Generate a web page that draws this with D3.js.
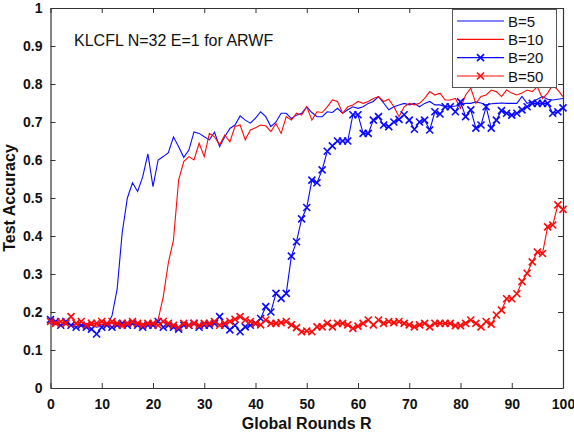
<!DOCTYPE html>
<html lang="en">
<head>
<meta charset="UTF-8">
<title>Test Accuracy vs Global Rounds</title>
<style>
  html, body { margin: 0; background: #fff; overflow: hidden; }
  text { font-family: "Liberation Sans", Arial, sans-serif; }
</style>
</head>
<body>
<div id="container"></div>
<script src="https://cdnjs.cloudflare.com/ajax/libs/d3/7.8.5/d3.min.js"></script>
<script>
// rounds 0..100
var rounds = d3.range(0, 101);

var b5 = [0.17,0.168,0.165,0.17,0.166,0.168,0.163,0.167,0.165,0.16,0.163,0.165,
  0.19,0.26,0.41,0.50,0.54,0.517,0.556,0.616,0.53,0.60,0.609,0.619,0.661,0.635,0.607,0.626,0.674,0.67,
  0.661,0.653,0.673,0.635,0.661,0.683,0.692,0.716,0.705,0.697,
  0.71,0.727,0.714,0.688,0.70,0.723,0.723,0.709,0.718,0.723,
  0.74,0.725,0.714,0.714,0.727,0.725,0.736,0.723,0.732,0.74,
  0.736,0.74,0.749,0.754,0.767,0.75,0.732,0.74,0.745,0.749,
  0.745,0.749,0.74,0.749,0.754,0.745,0.745,0.74,0.74,0.742,
  0.745,0.749,0.749,0.753,0.75,0.745,0.748,0.749,0.75,0.749,
  0.749,0.749,0.767,0.749,0.753,0.76,0.767,0.76,0.758,0.76,0.762];

var b10 = [0.17,0.168,0.165,0.17,0.165,0.168,0.165,0.17,0.165,0.163,
  0.168,0.165,0.17,0.165,0.16,0.165,0.168,0.165,0.17,0.165,
  0.17,0.18,0.24,0.33,0.39,0.547,0.596,0.609,0.60,0.644,
  0.609,0.67,0.661,0.64,0.666,0.648,0.688,0.692,0.653,0.679,
  0.685,0.692,0.69,0.675,0.696,0.67,0.714,0.705,0.723,0.718,
  0.74,0.705,0.727,0.725,0.74,0.758,0.754,0.723,0.74,0.745,
  0.754,0.749,0.754,0.762,0.767,0.754,0.76,0.74,0.714,0.74,
  0.749,0.745,0.749,0.762,0.78,0.771,0.776,0.758,0.758,0.762,
  0.736,0.771,0.789,0.749,0.767,0.771,0.784,0.78,0.767,0.784,
  0.776,0.771,0.776,0.784,0.78,0.793,0.762,0.776,0.798,0.784,0.767];

var b20 = [0.18,0.175,0.165,0.175,0.165,0.16,0.165,0.16,0.155,0.142,
  0.16,0.165,0.16,0.165,0.17,0.165,0.17,0.165,0.16,0.165,
  0.165,0.175,0.16,0.165,0.16,0.155,0.165,0.165,0.17,0.16,
  0.165,0.165,0.17,0.188,0.165,0.153,0.165,0.148,0.161,0.165,
  0.17,0.183,0.214,0.20,0.249,0.236,0.249,0.347,0.385,0.445,
  0.475,0.547,0.54,0.574,0.623,0.637,0.65,0.65,0.65,0.719,
  0.719,0.67,0.67,0.705,0.714,0.692,0.688,0.70,0.707,0.719,
  0.705,0.681,0.70,0.705,0.679,0.727,0.721,0.74,0.74,0.727,
  0.753,0.714,0.732,0.684,0.692,0.74,0.684,0.705,0.73,0.723,
  0.718,0.723,0.732,0.74,0.749,0.749,0.749,0.749,0.723,0.727,0.737];

var b50 = [0.175,0.17,0.175,0.17,0.188,0.17,0.175,0.165,0.17,0.17,
  0.175,0.17,0.175,0.17,0.165,0.17,0.175,0.17,0.165,0.17,
  0.17,0.165,0.175,0.17,0.165,0.16,0.17,0.165,0.17,0.165,
  0.17,0.17,0.175,0.165,0.17,0.175,0.181,0.188,0.179,0.175,
  0.17,0.166,0.179,0.17,0.17,0.172,0.175,0.166,0.159,0.148,
  0.15,0.148,0.161,0.161,0.17,0.161,0.17,0.17,0.166,0.157,
  0.163,0.17,0.179,0.166,0.179,0.17,0.175,0.172,0.175,0.17,
  0.166,0.161,0.166,0.17,0.161,0.17,0.17,0.17,0.17,0.164,
  0.164,0.17,0.179,0.17,0.161,0.175,0.168,0.192,0.205,0.235,
  0.235,0.248,0.28,0.302,0.332,0.358,0.354,0.424,0.429,0.482,0.47];

var xTicks = d3.range(0, 101, 10);
var yTicks = [0, 0.1, 0.2, 0.3, 0.4, 0.5, 0.6, 0.7, 0.8, 0.9, 1];

var series = [
  {name: "B=5",  values: b5,  color: "#0a0aff", marker: false},
  {name: "B=10", values: b10, color: "#ff0a0a", marker: false},
  {name: "B=20", values: b20, color: "#0a0aff", marker: true},
  {name: "B=50", values: b50, color: "#ff0a0a", marker: true}
];

var width = 574, height = 433;
var plotL = 50.5, plotR = 563, plotT = 8, plotB = 388;

var svg = d3.select('#container').append('svg')
  .attr('width', width)
  .attr('height', height);

var x = d3.scaleLinear().domain([0, 100]).range([plotL, plotR]);
var y = d3.scaleLinear().domain([0, 1]).range([plotB, plotT]);

var axisColor = "#333";

// axes, ticks pointing inward like matlab
var fmtY = function(d) { return d === 0 || d === 1 ? String(d) : d3.format(".1f")(d); };

var gx = svg.append('g').attr('transform', 'translate(0,' + plotB + ')')
  .call(d3.axisBottom(x).tickValues(xTicks).tickSizeInner(-5).tickSizeOuter(0).tickPadding(11));
var gy = svg.append('g').attr('transform', 'translate(' + plotL + ',0)')
  .call(d3.axisLeft(y).tickValues(yTicks).tickFormat(fmtY).tickSizeInner(-5).tickSizeOuter(0).tickPadding(8));
var gt = svg.append('g').attr('transform', 'translate(0,' + plotT + ')')
  .call(d3.axisTop(x).tickValues(xTicks).tickSizeInner(-5).tickSizeOuter(0).tickFormat(''));
var gr = svg.append('g').attr('transform', 'translate(' + plotR + ',0)')
  .call(d3.axisRight(y).tickValues(yTicks).tickSizeInner(-5).tickSizeOuter(0).tickFormat(''));

[gx, gy, gt, gr].forEach(function(g) {
  g.selectAll('.domain').attr('stroke', axisColor).attr('stroke-width', 1.2);
  g.selectAll('.tick line').attr('stroke', axisColor);
  g.selectAll('.tick text')
    .attr('fill', '#111')
    .style('font-family', '"Liberation Sans", Arial, sans-serif')
    .style('font-size', '14px')
    .style('font-weight', 'bold');
});

var line = d3.line()
  .x(function(d, i) { return x(rounds[i]); })
  .y(function(d) { return y(d); });

function xMark(sel, size) {
  sel.append('path')
    .attr('d', 'M' + (-size) + ',' + (-size) + 'L' + size + ',' + size +
               'M' + (-size) + ',' + size + 'L' + size + ',' + (-size));
}

series.forEach(function(s) {
  svg.append('path')
    .datum(s.values)
    .attr('fill', 'none')
    .attr('stroke', s.color)
    .attr('stroke-width', 1.1)
    .attr('d', line);
  if (s.marker) {
    var m = svg.append('g')
      .attr('stroke', s.color)
      .attr('stroke-width', 1.6)
      .selectAll('g')
      .data(s.values)
      .enter().append('g')
      .attr('transform', function(d, i) { return 'translate(' + x(rounds[i]) + ',' + y(d) + ')'; });
    xMark(m, 3.5);
  }
});

// title inside the plot
svg.append('text')
  .attr('x', 74)
  .attr('y', 46)
  .style('font-size', '16px')
  .attr('fill', '#111')
  .text('KLCFL N=32 E=1 for ARWF');

// axis titles
svg.append('text')
  .attr('x', (plotL + plotR) / 2)
  .attr('y', 429)
  .attr('text-anchor', 'middle')
  .style('font-size', '16px')
  .style('font-weight', 'bold')
  .attr('fill', '#111')
  .text('Global Rounds R');

svg.append('text')
  .attr('transform', 'translate(15,' + ((plotT + plotB) / 2) + ') rotate(-90)')
  .attr('text-anchor', 'middle')
  .style('font-size', '16px')
  .style('font-weight', 'bold')
  .attr('fill', '#111')
  .text('Test Accuracy');

// legend
var lg = svg.append('g');
lg.append('rect')
  .attr('x', 452.5).attr('y', 9.5)
  .attr('width', 104).attr('height', 78)
  .attr('fill', '#fff')
  .attr('stroke', '#555')
  .attr('stroke-width', 1);

var legendY = d3.scalePoint().domain(series.map(function(s) { return s.name; })).range([21, 76]);

series.forEach(function(s) {
  var ly = legendY(s.name);
  lg.append('line')
    .attr('x1', 457).attr('x2', 504)
    .attr('y1', ly).attr('y2', ly)
    .attr('stroke', s.color)
    .attr('stroke-width', 1.1);
  if (s.marker) {
    var mk = lg.append('g')
      .attr('stroke', s.color)
      .attr('stroke-width', 1.6)
      .attr('transform', 'translate(480.5,' + ly + ')');
    xMark(mk, 3.5);
  }
  lg.append('text')
    .attr('x', 508)
    .attr('y', ly + 5.5)
    .style('font-size', '15px')
    .attr('fill', '#111')
    .text(s.name);
});
</script>
</body>
</html>
